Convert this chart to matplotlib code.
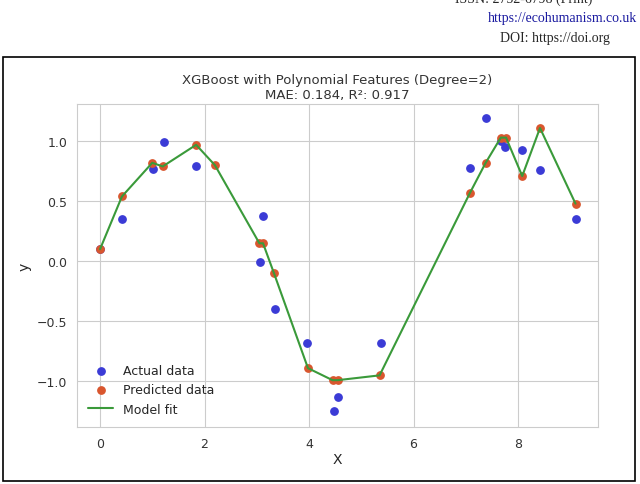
import matplotlib.pyplot as plt
import seaborn as sns
from matplotlib.patches import Rectangle

sns.set_style("whitegrid")
plt.rcParams['font.family'] = ['DejaVu Sans']

actual_x = [0.0, 0.42, 1.02, 1.23, 1.84, 3.06, 3.12, 3.35, 3.96, 4.48, 4.55, 5.38,
            7.08, 7.38, 7.67, 7.75, 8.08, 8.42, 9.1]
actual_y = [0.10, 0.35, 0.77, 0.99, 0.79, -0.01, 0.38, -0.40, -0.68, -1.25, -1.13, -0.68,
            0.78, 1.19, 1.0, 0.95, 0.93, 0.76, 0.35]
pred_x = [0.0, 0.42, 1.0, 1.2, 1.84, 2.2, 3.05, 3.12, 3.33, 3.98, 4.45, 4.55, 5.35,
          7.08, 7.38, 7.67, 7.77, 8.08, 8.42, 9.1]
pred_y = [0.10, 0.54, 0.82, 0.79, 0.97, 0.80, 0.15, 0.15, -0.10, -0.89, -0.99, -0.99, -0.95,
          0.57, 0.82, 1.03, 1.03, 0.71, 1.11, 0.48]

fig = plt.figure(figsize=(6.4, 4.85), dpi=100)
ax = fig.add_axes([77/640, 1 - 428/485, 521/640, 323/485])

ax.scatter(actual_x, actual_y, color='#3b3bd6', s=28, label='Actual data', zorder=3)
ax.scatter(pred_x, pred_y, color='#d9562e', s=28, label='Predicted data', zorder=4)
ax.plot(pred_x, pred_y, color='#3a9a3a', lw=1.5, label='Model fit', zorder=5)

ax.set_xlim(-0.44, 9.53)
ax.set_ylim(-1.38, 1.31)
ax.set_xticks([0, 2, 4, 6, 8])
ax.set_yticks([-1.0, -0.5, 0.0, 0.5, 1.0])
ax.tick_params(labelsize=9, colors='#333333')
ax.set_xlabel('X', fontsize=10, labelpad=2)
ax.set_ylabel('y', fontsize=10)
ax.set_title('XGBoost with Polynomial Features (Degree=2)\nMAE: 0.184, R²: 0.917',
             fontsize=9.5, color='#333333', pad=4)
ax.legend(loc='lower left', frameon=False, fontsize=9)

# page context around the figure
fig.patches.append(Rectangle((3/640, 3/485), 632/640, 424/485 + 0.0,
                             transform=fig.transFigure, fill=False, lw=1.2, color='black'))
fig.text(455/640, 1.015, 'ISSN: 2752-6798 (Print)', fontsize=10, family='Liberation Serif', va='top')
fig.text(488/640, 0.975, 'https://ecohumanism.co.uk', fontsize=10, family='Liberation Serif',
         va='top', color='#1a1aa0')
fig.text(500/640, 0.935, 'DOI: https://doi.org', fontsize=10, family='Liberation Serif', va='top')

fig.savefig('out.png', dpi=100)
